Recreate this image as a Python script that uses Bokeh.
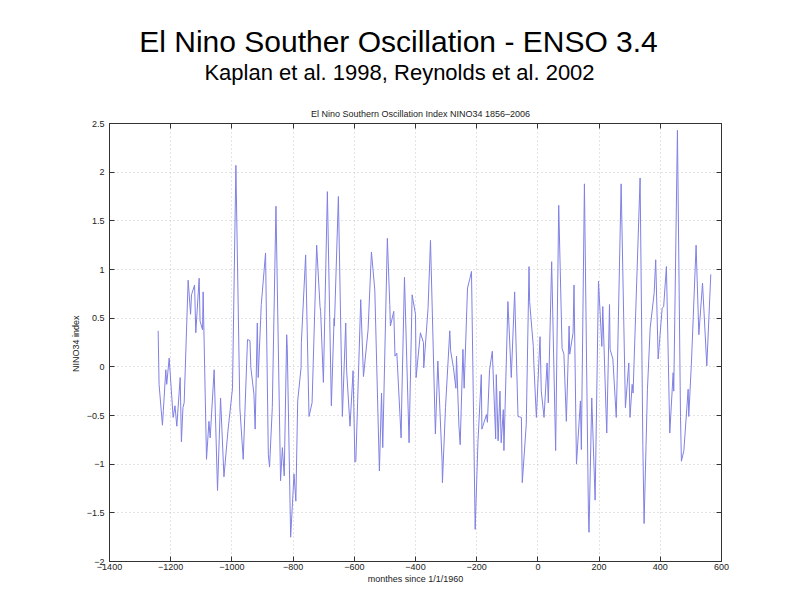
from bokeh.plotting import figure
from bokeh.models import Range1d, FixedTicker, Label, LinearAxis, ColumnDataSource
from bokeh.layouts import column
from bokeh.embed import file_html
from bokeh.resources import INLINE

# ---- data ----
months = [
    -1241, -1238, -1227, -1224, -1216, -1213, -1205, -1192, -1186, -1180,
    -1169, -1165, -1160, -1156, -1143, -1135, -1132, -1122, -1118, -1107,
    -1104, -1096, -1094, -1083, -1075, -1071, -1058, -1047, -1037, -1026,
    -1013, -998, -987, -974, -963, -949, -941, -938, -928, -924,
    -917, -914, -904, -890, -881, -877, -868, -856, -841, -835,
    -829, -821, -819, -808, -797, -791,
    -785, -774, -773, -759, -748, -738, -723, -712, -710, -701,
    -688, -675, -666, -665, -652, -639, -628, -625, -614, -604,
    -598, -595, -579, -570, -555, -544, -533, -518, -511, -507,
    -492, -484, -482, -471, -467, -461, -447, -445, -436, -421,
    -411, -400, -398, -384, -374, -373, -359, -351, -335, -327,
    -313, -312, -302, -288, -285,
    -276, -268, -266, -258, -254, -245, -241, -230, -222, -217,
    -205, -196, -185, -183, -176, -168, -165, -158, -149, -138,
    -136, -130, -124, -120, -113, -111, -98, -87, -76, -65,
    -54, -51, -38, -29, -27, -15, -13, -5, 7, 11,
    20, 30, 34, 45, 58, 68, 79, 85, 93, 102,
    104, 115, 118, 126, 139, 142, 152, 165, 167,
    176, 187, 198, 209, 212, 223, 225, 234, 236, 245,
    256, 259, 272, 286, 297, 301, 308, 311, 334, 343,
    347, 358, 367, 380, 385, 393, 406, 411, 420, 431,
    442, 444, 456, 466, 469, 477, 491, 493, 502, 517,
    526, 538, 552, 565,
]
nino34 = [
    0.37, -0.18, -0.60, -0.45, -0.03, -0.18, 0.09, -0.52, -0.40, -0.61,
    -0.11, -0.77, -0.42, -0.37, 0.89, 0.54, 0.74, 0.84, 0.35, 0.91,
    0.47, 0.38, 0.77, -0.95, -0.56, -0.73, -0.03, -1.27, -0.32, -1.13,
    -0.66, -0.22, 2.07, -0.42, -0.95, 0.28, 0.27, -0.01, -0.28, -0.64,
    0.45, -0.11, 0.64, 1.17, -0.90, -1.03, -0.42, 1.65, -1.17, -0.83,
    -1.12, 0.33, 0.19, -1.75, -1.10, -1.38,
    -0.35, -0.01, 0.25, 1.15, -0.51, -0.37, 1.25, 0.62, 0.57, -0.16,
    1.80, -0.40, 0.50, 0.42, 1.75, -0.51, 0.45, -0.04, -0.61, -0.04,
    -0.98, -0.97, 0.69, -0.10, 0.38, 1.18, 0.79, -1.07, -0.27, -0.83,
    1.32, 0.64, 0.42, 0.57, 0.11, 0.14, -0.73, -0.37, 0.92, -0.78,
    0.74, 0.54, -0.11, 0.35, 0.25, -0.01, 0.60, 1.30, -0.69, 0.06,
    -0.98, -1.19, -0.42, 0.37, 0.16,
    -0.01, -0.22, 0.11, -0.61, -0.80, 0.18, -0.22, 0.81, 0.91, 0.98,
    -1.67, -0.78, -0.08, -0.64, -0.57, -0.49, -0.57, -0.03, 0.16, -0.74,
    -0.08, -0.76, -0.25, -0.78, -0.44, -0.86, 0.67, -0.11, 0.77, -0.51,
    -0.52, -1.19, -0.59, 1.03, 0.67, 0.21, 0.01, -0.52, 0.31, -0.25,
    -0.52, 0.04, -0.37, 1.08, -0.86, 1.66, 0.19, 0.13, -0.56, 0.42,
    0.13, 0.35, 0.84, -1.00, -0.35, -0.85, 1.88, -1.49, -1.70,
    -0.32, -1.37, 0.88, 0.21, 0.62, -0.49, -0.68, 0.64, 0.18, 0.08,
    -0.52, -0.13, 1.88, -0.42, 0.04, -0.52, -0.18, -0.27, 1.94, -0.81,
    -1.61, -0.23, 0.40, 0.76, 1.10, 0.08, 0.60, 0.62, 1.03, -0.68,
    -0.06, -0.25, 2.43, -0.51, -0.97, -0.86, -0.23, -0.51, 0.06, 1.25,
    0.33, 0.86, 0.01, 0.95,
]

x_ticks = [-1400, -1200, -1000, -800, -600, -400, -200, 0, 200, 400, 600]
x_tick_labels = ["\u22121400", "\u22121200", "\u22121000", "\u2212800", "\u2212600",
                 "\u2212400", "\u2212200", "0", "200", "400", "600"]
y_ticks = [-2, -1.5, -1, -0.5, 0, 0.5, 1, 1.5, 2, 2.5]
y_tick_labels = ["\u22122", "\u22121.5", "\u22121", "\u22120.5", "0", "0.5", "1", "1.5", "2", "2.5"]

main_title = "El Nino Souther Oscillation - ENSO 3.4"
sub_title = "Kaplan et al. 1998, Reynolds et al. 2002"
plot_title = "El Nino Southern Oscillation Index NINO34 1856\u20132006"
x_label = "monthes since 1/1/1960"
y_label = "NINO34  index"

FONT = "Liberation Sans"
SMALL = "9px"
W = 784
HEAD_H = 118
TOTAL_H = 592
FRAME_L, FRAME_R = 109, 721

# ---- header figure with the slide titles (its frame is aligned with the chart frame) ----
head = figure(width=W, height=HEAD_H, output_backend="svg", toolbar_location=None,
              x_range=Range1d(FRAME_L, FRAME_R), y_range=Range1d(0, HEAD_H),
              x_axis_type=None, y_axis_type=None,
              min_border=0, min_border_left=FRAME_L, min_border_right=W - FRAME_R,
              min_border_top=0, min_border_bottom=0)
head.grid.visible = False
head.outline_line_color = None
head.background_fill_color = "white"
head.border_fill_color = "white"
head.add_layout(Label(x=398, y=HEAD_H - 41, text=main_title, text_font=FONT,
                      text_font_size="30px", text_align="center",
                      text_baseline="middle", text_color="black"))
head.add_layout(Label(x=399, y=HEAD_H - 72, text=sub_title, text_font=FONT,
                      text_font_size="22px", text_align="center",
                      text_baseline="middle", text_color="black"))
head.add_layout(Label(x=420, y=HEAD_H - 113, text=plot_title, text_font=FONT,
                      text_font_size=SMALL, text_align="center",
                      text_baseline="middle", text_color="#222222"))

# ---- chart ----
p = figure(width=W, height=TOTAL_H - HEAD_H, output_backend="svg", toolbar_location=None,
           x_range=Range1d(-1400, 600), y_range=Range1d(-2, 2.5),
           min_border_left=FRAME_L, min_border_right=W - FRAME_R, min_border_top=123 - HEAD_H,
           min_border_bottom=TOTAL_H - 561)
p.background_fill_color = "white"
p.border_fill_color = "white"
p.outline_line_color = "#333333"
p.outline_line_width = 1

xax = p.below[0]
yax = p.left[0]

src = ColumnDataSource(dict(m=months, v=nino34))
p.line("m", "v", source=src, line_color="#8080e4", line_width=1)

xax.ticker = FixedTicker(ticks=x_ticks)
xax.major_label_overrides = {t: l for t, l in zip(x_ticks, x_tick_labels)}
xax.axis_label = x_label
yax.ticker = FixedTicker(ticks=y_ticks)
yax.major_label_overrides = {t: l for t, l in zip(y_ticks, y_tick_labels)}
yax.axis_label = y_label

top_ax = LinearAxis(ticker=FixedTicker(ticks=x_ticks), major_label_text_font_size="0px",
                    major_label_text_color=None, major_label_standoff=0)
right_ax = LinearAxis(ticker=FixedTicker(ticks=y_ticks), major_label_text_font_size="0px",
                      major_label_text_color=None, major_label_standoff=0)
p.add_layout(top_ax, "above")
p.add_layout(right_ax, "right")

for ax in [xax, yax, top_ax, right_ax]:
    ax.axis_line_color = "#333333"
    ax.major_tick_line_color = "#333333"
    ax.major_tick_in = 5
    ax.major_tick_out = 0
    ax.minor_tick_line_color = None

for ax in [xax, yax]:
    ax.major_label_text_font = FONT
    ax.major_label_text_font_size = SMALL
    ax.major_label_text_color = "#222222"
    ax.axis_label_text_font = FONT
    ax.axis_label_text_font_size = SMALL
    ax.axis_label_text_font_style = "normal"
    ax.axis_label_text_color = "#222222"

xax.major_label_standoff = 2
xax.axis_label_standoff = 1
yax.major_label_standoff = 5
yax.axis_label_standoff = 3

p.xgrid.ticker = FixedTicker(ticks=x_ticks)
p.ygrid.ticker = FixedTicker(ticks=y_ticks)
p.grid.grid_line_color = "#c8c8c8"
p.grid.grid_line_dash = "1 3"
p.grid.grid_line_width = 1

layout = column(head, p, spacing=0)
open("out.html", "w").write(file_html(layout, INLINE))
